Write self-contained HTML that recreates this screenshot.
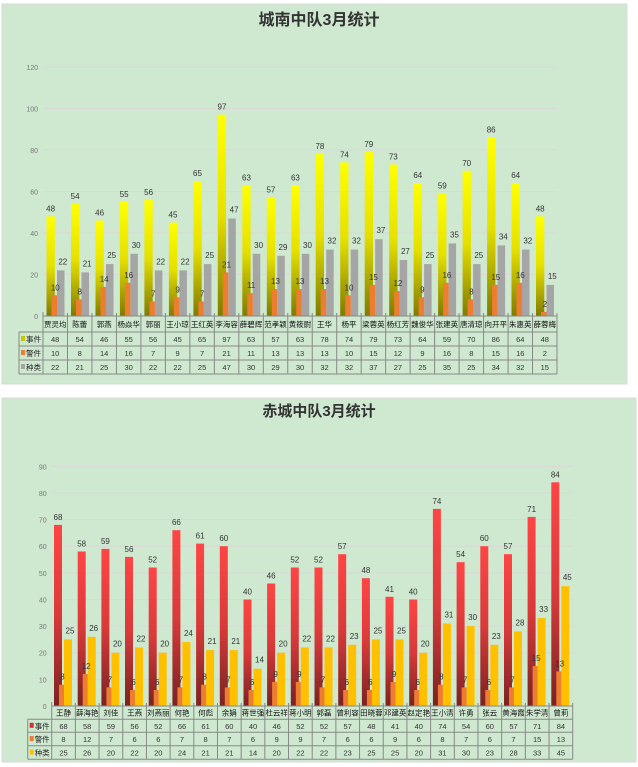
<!DOCTYPE html>
<html><head><meta charset="utf-8"><style>
html,body{margin:0;padding:0;background:#fff;width:638px;height:767px;overflow:hidden}
svg{display:block}
text{font-family:"Liberation Sans","Noto Sans CJK SC",sans-serif}
</style></head><body>
<svg id="s" width="638" height="767" xmlns="http://www.w3.org/2000/svg">
<defs>
<linearGradient id="gy" x1="0" y1="0" x2="0" y2="1"><stop offset="0" stop-color="#ffff00"/><stop offset="0.5" stop-color="#e6e000"/><stop offset="1" stop-color="#7f7a00"/></linearGradient>
<linearGradient id="gr" x1="0" y1="0" x2="0" y2="1"><stop offset="0" stop-color="#ff4545"/><stop offset="0.5" stop-color="#d93a3a"/><stop offset="1" stop-color="#7a2222"/></linearGradient>
</defs>
<rect x="2" y="4" width="625" height="380" fill="#cfe8d0" stroke="#d8d8d8"/>
<rect x="2" y="398" width="634" height="364" fill="#cfe8d0" stroke="#d8d8d8"/>
<text x="319" y="25" font-size="16" font-weight="bold" text-anchor="middle" fill="#333">城南中队3月统计</text>
<text x="319" y="416" font-size="15" font-weight="bold" text-anchor="middle" fill="#333">赤城中队3月统计</text>
<g id="g"></g>
</svg>
<script>
var g=document.getElementById('g'),h='';
function R(x,y,w,hh,f){h+='<rect x="'+x.toFixed(1)+'" y="'+y.toFixed(1)+'" width="'+w+'" height="'+Math.max(hh,0).toFixed(1)+'" fill="'+f+'"/>';}
function T(x,y,t,s,a,c){h+='<text x="'+x.toFixed(1)+'" y="'+y.toFixed(1)+'" font-size="'+s+'" text-anchor="'+(a||'middle')+'" fill="'+(c||'#333')+'">'+t+'</text>';}
function L(x1,y1,x2,y2,c,w){h+='<line x1="'+x1+'" y1="'+y1+'" x2="'+x2+'" y2="'+y2+'" stroke="'+c+'" stroke-width="'+(w||1)+'"/>';}
function chart(o){
 var n=o.names.length,cw=(o.x1-o.x0)/n;
 for(var v=0;v<=o.max;v+=o.step){var y=o.y0-v*o.k;if(v>0)L(o.x0,y,o.x1,y,'#d9d9d9',1);T(o.x0-5,y+3,v,7,'end','#777');}
 for(var i=0;i<n;i++){var x=o.x0+i*cw;
  var a=o.d[0][i],b=o.d[1][i],c=o.d[2][i];
  R(x+o.p[0],o.y0-a*o.k,o.w[0],a*o.k,o.c[0]);
  R(x+o.p[2],o.y0-c*o.k,o.w[2],c*o.k,o.c[2]);
  R(x+o.p[1],o.y0-b*o.k,o.w[1],b*o.k,o.c[1]);
  T(x+o.p[0]+o.w[0]/2,o.y0-a*o.k-5,a,8);
  T(x+o.p[1]+o.w[1]/2+1,o.y0-b*o.k-5,b,8);
  T(x+o.p[2]+o.w[2]/2+2,o.y0-c*o.k-6,c,8);
 }
 var r=o.rows,lx=o.x0-24;
 // table
 L(o.x0,r[0],o.x1,r[0],'#888');
 for(var j=1;j<4;j++)L(lx,r[j],o.x1,r[j],'#888');
 L(lx,r[4],o.x1,r[4],'#888');
 L(lx,r[1],lx,r[4],'#888');
 for(var i=0;i<=n;i++){var x=o.x0+i*cw;L(x,r[0]-(i==0?4:3),x,r[4],'#888');}
 for(var i=0;i<n;i++){var x=o.x0+i*cw+cw/2;
  T(x,(r[0]+r[1])/2+3,o.names[i],7.5,'middle','#111');
  for(var j=0;j<3;j++)T(x,(r[j+1]+r[j+2])/2+3,o.d[j][i],7.5,'middle','#333');
 }
 var lab=['事件','警件','种类'];
 for(var j=0;j<3;j++){var yy=(r[j+1]+r[j+2])/2;R(lx+2,yy-3,4,5,o.lc[j]);T(lx+7,yy+3,lab[j],7.5,'start','#222');}
}
chart({x0:43,x1:557,y0:316,k:2.075,max:120,step:20,
 names:['贾灵均','陈蕾','郭燕','杨焱华','郭丽','王小琼','王红英','李海容','薛碧辉','范孝颖','黄筱尉','王华','杨平','梁蓉英','杨红芳','魏俊华','张建英','唐清琼','向开平','朱惠英','薛蓉梅'],
 d:[[48,54,46,55,56,45,65,97,63,57,63,78,74,79,73,64,59,70,86,64,48],
    [10,8,14,16,7,9,7,21,11,13,13,13,10,15,12,9,16,8,15,16,2],
    [22,21,25,30,22,22,25,47,30,29,30,32,32,37,27,25,35,25,34,32,15]],
 p:[3.5,8.5,14],w:[8.3,5.5,7.5],c:['url(#gy)','#ed7d31','#a5a5a5'],lc:['#c8c800','#ed7d31','#a5a5a5'],
 rows:[316,332,346,360,374]});
chart({x0:51.7,x1:572.7,y0:706,k:2.663,max:90,step:10,
 names:['王静','薛海艳','刘佳','王燕','刘燕丽','何艳','何彪','余娟','蒋世强','杜云祥','蒋小明','郭磊','曾利容','田晓蓉','邓建英','赵定艳','王小清','许勇','张云','黄海霞','朱学清','曾莉'],
 d:[[68,58,59,56,52,66,61,60,40,46,52,52,57,48,41,40,74,54,60,57,71,84],
    [8,12,7,6,6,7,8,7,6,9,9,7,6,6,9,6,8,7,6,7,15,13],
    [25,26,20,22,20,24,21,21,14,20,22,22,23,25,25,20,31,30,23,28,33,45]],
 p:[2.3,7.3,12.3],w:[8,5,8],c:['url(#gr)','#ed7d31','#ffc000'],lc:['#d03030','#ed7d31','#ffc000'],
 rows:[706,719.3,732.3,745.7,759.3]});
g.innerHTML=h;
</script>
</body></html>
